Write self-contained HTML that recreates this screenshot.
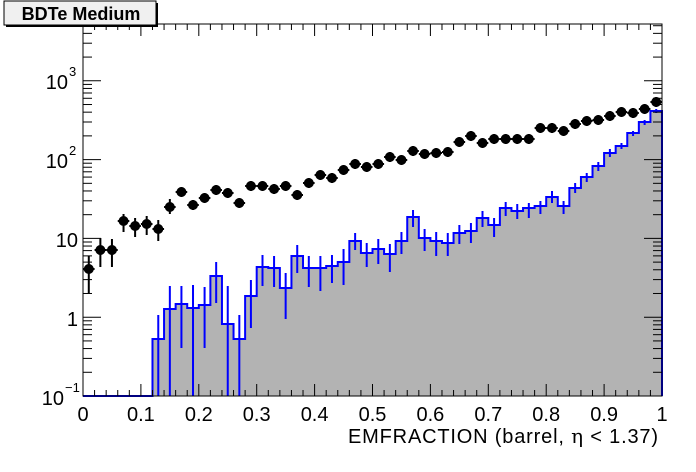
<!DOCTYPE html>
<html><head><meta charset="utf-8"><style>
body{margin:0;background:#fff;}
svg{display:block;font-family:"Liberation Sans",Arial,sans-serif;}
</style></head><body>
<svg id="s" width="696" height="472" xmlns="http://www.w3.org/2000/svg">
<rect width="696" height="472" fill="#fff"/>
<g id="g"></g>
<rect x="83" y="24" width="579" height="372" fill="none" stroke="#000" stroke-width="1"/>
<rect x="6" y="3" width="152" height="24" fill="#000"/>
<rect x="4" y="1" width="152" height="24" fill="#f0f0f0" stroke="#000" stroke-width="1"/>
<text x="81" y="20" font-size="18" font-weight="bold" text-anchor="middle">BDTe Medium</text>
<g font-size="20" text-anchor="end">
<text x="64" y="405">10</text><text x="65" y="392" font-size="13" text-anchor="start">−1</text>
<text x="78" y="326">1</text>
<text x="78" y="247">10</text>
<text x="68" y="168">10</text><text x="69" y="155" font-size="13" text-anchor="start">2</text>
<text x="68" y="89">10</text><text x="69" y="76" font-size="13" text-anchor="start">3</text>
</g>
<g font-size="20" text-anchor="middle" id="xl"></g>
<text x="348" y="443" font-size="20" textLength="310" lengthAdjust="spacing">EMFRACTION (barrel,   <tspan font-family="DejaVu Serif, serif">η</tspan> &lt; 1.37)</text>
</svg>
<script>
var g=document.getElementById('g'),xl=document.getElementById('xl');
var X0=83,W=11.58,B=396;
function X(i){return X0+W*i;}
var h=[396,396,396,396,396,396,339,309,304,308,305,276,324,339,296,267,268,288,256,268,268,266,262,241,253,249,254,241,217,238,241,243,233,231,218,225,208,211,208,206,197,206,188,177,166,153,146,133,122,111];
var he=[null,null,null,null,null,null,[315,396],[286,396],[286,348],[285,396],[287,348],[262,303],[286,396],[315,396],[280,328],[255,286],[256,287],[273,319],[245,273],[256,287],[256,291],[255,283],[249,285],[233,250],[243,267],[239,264],[244,272],[232,254],[210,227],[229,251],[232,256],[233,256],[225,244],[223,243],[211,227],[218,237],[202,216],[204,219],[203,218],[201,214],[191,203],[201,214],[183,193],[173,182],[162,171],[149,157],[143,149],[131,136],[120,125],[109,113]];
var d=[269,250,250,221,226,224,229,207,192,205,198,190,193,203,186,186,189,186,195,183,175,178,170,164,167,164,157,160,151,154,153,152,142,136,143,139,139,139,139,128,128,131,124,121,120,116,112,113,109,102];
var de={0:[256,293],1:[238,267],2:[239,267],3:[214,232],4:[218,237],5:[216,235],6:[220,241],7:[199,214],8:[187,197]};
var s='';
var p='M'+X(0)+' '+B;
for(var i=0;i<50;i++){p+=' L'+X(i)+' '+h[i]+' L'+X(i+1)+' '+h[i];}
p+=' L'+X(50)+' '+B+' Z';
s+='<path d="'+p+'" fill="#b3b3b3" stroke="none"/>';
s+='<path d="'+p.replace(' Z','')+'" fill="none" stroke="#0000ff" stroke-width="2"/>';
for(var i=0;i<50;i++){if(he[i]){var cx=X(i+0.5);s+='<line x1="'+cx+'" y1="'+he[i][0]+'" x2="'+cx+'" y2="'+he[i][1]+'" stroke="#0000ff" stroke-width="2"/>';}}
for(var k=0;k<=50;k++){var x=X(k),L=(k%5==0)?12:6;s+='<line x1="'+x+'" y1="'+B+'" x2="'+x+'" y2="'+(B-L)+'" stroke="#000"/><line x1="'+x+'" y1="24" x2="'+x+'" y2="'+(24+L)+'" stroke="#000"/>';}
var dec=78.8;
for(var e=-1;e<=3;e++){for(var m=1;m<=9;m++){var y=B-(e+1+Math.log10(m))*dec;if(y<24)continue;var L=m==1?18:9;s+='<line x1="83" y1="'+y+'" x2="'+(83+L)+'" y2="'+y+'" stroke="#000"/><line x1="662" y1="'+y+'" x2="'+(662-L)+'" y2="'+y+'" stroke="#000"/>';}}
for(var i=0;i<50;i++){var cx=X(i+0.5),y=d[i];var e=de[i]||[y-5,y+5];
s+='<line x1="'+cx+'" y1="'+e[0]+'" x2="'+cx+'" y2="'+e[1]+'" stroke="#000" stroke-width="2"/>';
s+='<line x1="'+X(i)+'" y1="'+y+'" x2="'+X(i+1)+'" y2="'+y+'" stroke="#000" stroke-width="2"/>';
s+='<circle cx="'+cx+'" cy="'+y+'" r="5" fill="#000"/>';}
g.innerHTML=s;
var t='';var labs=['0','0.1','0.2','0.3','0.4','0.5','0.6','0.7','0.8','0.9','1'];
for(var k=0;k<=10;k++){t+='<text x="'+X(k*5)+'" y="421">'+labs[k]+'</text>';}
xl.innerHTML=t;
</script>
</body></html>
